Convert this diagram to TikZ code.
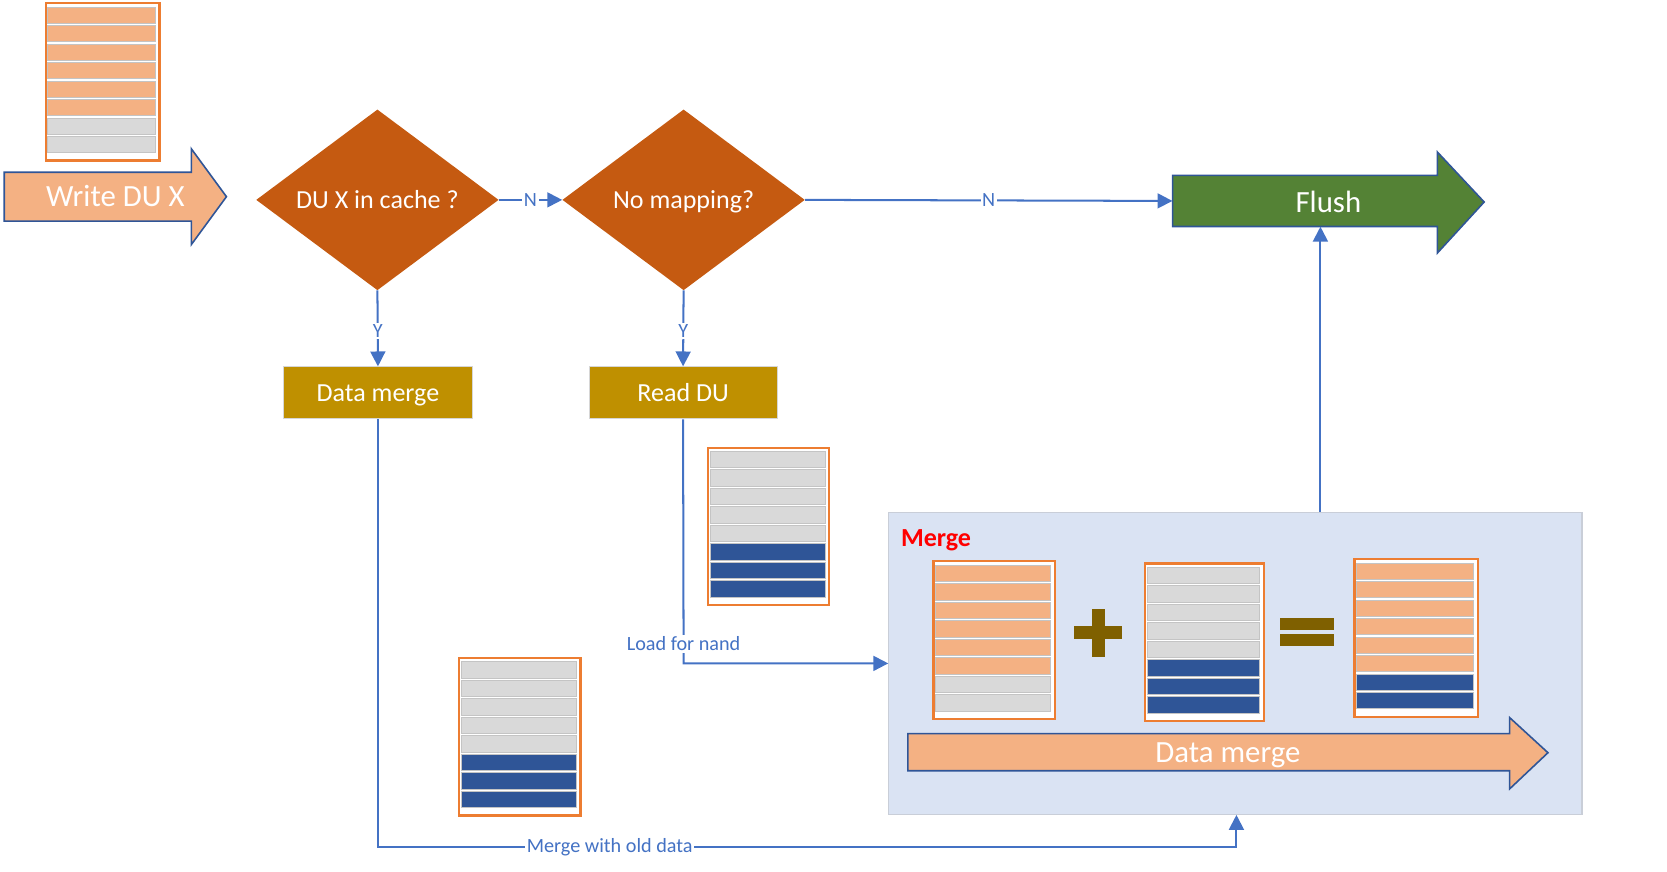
\documentclass[tikz,border=0pt]{standalone}
\usepackage{fontspec}
\setmainfont{Carlito}
\usetikzlibrary{shapes.geometric,arrows.meta}
\definecolor{conn}{HTML}{4472C4}
\definecolor{diamondc}{HTML}{C55A11}
\definecolor{boxc}{HTML}{BF9000}
\definecolor{greenc}{HTML}{548235}
\definecolor{arrowedge}{HTML}{2F5597}
\definecolor{peach}{HTML}{F4B183}
\definecolor{rowO}{HTML}{F4B183}
\definecolor{rowG}{HTML}{D9D9D9}
\definecolor{rowB}{HTML}{2F5597}
\definecolor{rowedge}{HTML}{C4C4C4}
\definecolor{stackedge}{HTML}{ED7D31}
\definecolor{mergefill}{HTML}{DAE3F3}
\definecolor{mergeedge}{HTML}{C9CED8}
\definecolor{opc}{HTML}{7F6000}
\definecolor{boxedge}{HTML}{D6D6D6}
\tikzset{
  connector/.style={draw=conn, line width=1.9pt, -{Triangle[length=14pt,width=14pt]}},
  lbl/.style={fill=white, text=conn, inner sep=1.5pt, font=\fontsize{19}{22}\selectfont},
  biglbl/.style={fill=white, text=conn, inner sep=1.5pt, font=\fontsize{19}{22}\selectfont},
  decision/.style={diamond, fill=diamondc, text=white, minimum width=228pt, minimum height=170pt, inner sep=0pt, text height=16pt, text depth=0pt, font=\fontsize{24.5}{29}\selectfont},
  stepbox/.style={rectangle, fill=boxc, draw=boxedge, line width=0.8pt, text=white, minimum width=177pt, minimum height=49pt, text height=16pt, text depth=0pt, font=\fontsize{24.5}{29}\selectfont},
  blockarrow/.style={draw=arrowedge, line width=1.5pt, line join=miter},
  arrowtext/.style={text=white, text height=19pt, text depth=0pt, font=\fontsize{29}{34}\selectfont},
  stackframe/.style={rectangle, draw=stackedge, fill=white, line width=2pt, minimum height=148pt, inner sep=0pt},
  oper/.style={fill=opc},
}
\newcommand{\memstack}[5]{%
  \node[stackframe, minimum width=#4pt, anchor=north west] (#1) at (#2,#3) {};
  \foreach \rowcol [count=\i from 0] in {#5} {
    \path[fill=\rowcol, draw=rowedge, line width=0.7pt] ({#2+3},{#3+4.5+\i*17.4}) rectangle ++({#4-6},15.4);
  }
}
\begin{document}
\begin{tikzpicture}[x=1pt, y=-1pt]
\useasboundingbox (0,0) rectangle (1568,820);

% ---- write arrow and stack
\memstack{s0}{42}{2}{107}{rowO,rowO,rowO,rowO,rowO,rowO,rowG,rowG}
\draw[blockarrow, fill=peach] (4,162) -- (180,162) -- (180,140) -- (213,185) -- (180,230) -- (180,208) -- (4,208) -- cycle;
\node[arrowtext] (write) at (108.5,185) {Write DU X};

% ---- decisions
\node[decision] (d1) at (355,188) {DU X in cache ?};
\node[decision] (d2) at (643,188) {No mapping?};

% ---- boxes
\node[stepbox] (dm) at (355.5,369.5) {Data merge};
\node[stepbox] (rd) at (642.5,369.5) {Read DU};

% ---- flush arrow
\draw[blockarrow, fill=greenc] (1103,165) -- (1352,165) -- (1352,143) -- (1396,190) -- (1352,238) -- (1352,213) -- (1103,213) -- cycle;
\node[minimum width=249pt, minimum height=48pt, inner sep=0pt] (flushbody) at (1227.5,189) {};
\node[arrowtext] (flush) at (1249.5,190) {Flush};
\coordinate (fx) at (1242,0);

% ---- merge box
\node[rectangle, fill=mergefill, draw=mergeedge, line width=1pt, minimum width=652pt, minimum height=284pt, inner sep=0pt] (mergebox) at (1162,624) {};
\node[anchor=west, text=red, font=\fontsize{24.5}{29}\selectfont\bfseries] (mergelbl) at (844,508) {Merge};
\memstack{sa}{877}{527}{114}{rowO,rowO,rowO,rowO,rowO,rowO,rowG,rowG}
\memstack{sb}{1076}{529}{112}{rowG,rowG,rowG,rowG,rowG,rowB,rowB,rowB}
\memstack{sc}{1273}{525}{116}{rowO,rowO,rowO,rowO,rowO,rowO,rowB,rowB}
% plus
\node[oper, minimum width=45pt, minimum height=12pt, inner sep=0pt] (plush) at (1033,595) {};
\node[oper, minimum width=12pt, minimum height=45pt, inner sep=0pt] (plusv) at (1033,595) {};
% equals
\node[oper, minimum width=51pt, minimum height=10.5pt, inner sep=0pt] (eq1) at (1229,587) {};
\node[oper, minimum width=51pt, minimum height=10.5pt, inner sep=0pt] (eq2) at (1229,602) {};
% data merge arrow
\draw[blockarrow, fill=peach] (854,690) -- (1420,690) -- (1420,675) -- (1456,708) -- (1420,742) -- (1420,725) -- (854,725) -- cycle;
\node[arrowtext] (dmarrow) at (1155,708) {Data merge};

% ---- other stacks
\memstack{s1}{665}{420}{114}{rowG,rowG,rowG,rowG,rowG,rowB,rowB,rowB}
\memstack{s2}{431}{618}{114}{rowG,rowG,rowG,rowG,rowG,rowB,rowB,rowB}

% ---- connectors
\draw[connector] (d1.east) -- node[lbl, pos=0.5] {N} (d2.west);
\draw[connector] (d2.east) -- node[lbl, pos=0.5] {N} (flushbody.west);
\draw[connector] (d1.south) -- node[lbl, pos=0.53] {Y} (dm.north);
\draw[connector] (d2.south) -- node[lbl, pos=0.53] {Y} (rd.north);
\coordinate (lfn) at (643,624);
\draw[connector] (rd.south) -- node[biglbl, pos=0.92] {Load for nand} (lfn) -- (mergebox.west |- lfn);
\coordinate (mwo) at (1163,797);
\draw[connector] (dm.south) |- node[biglbl, pos=0.635] {Merge with old data} (mwo) -- (mergebox.south -| mwo);
\draw[connector] (mergebox.north -| fx) -- (flushbody.south -| fx);
\end{tikzpicture}
\end{document}
